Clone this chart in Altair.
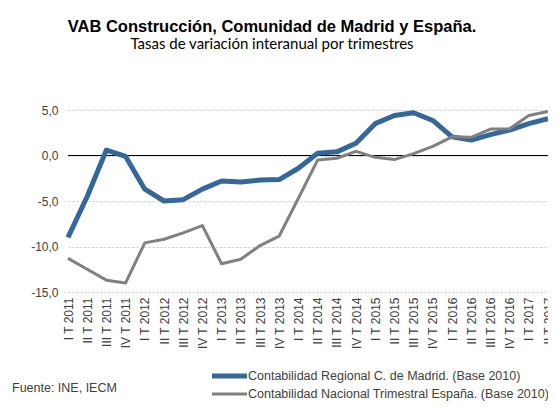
import altair as alt
import pandas as pd

categories = [
    "I T 2011", "II T 2011", "III T 2011", "IV T 2011",
    "I T 2012", "II T 2012", "III T 2012", "IV T 2012",
    "I T 2013", "II T 2013", "III T 2013", "IV T 2013",
    "I T 2014", "II T 2014", "III T 2014", "IV T 2014",
    "I T 2015", "II T 2015", "III T 2015", "IV T 2015",
    "I T 2016", "II T 2016", "III T 2016", "IV T 2016",
    "I T 2017", "II T 2017",
]
madrid = [-9.0, -4.5, 0.6, -0.1, -3.7, -5.0, -4.85, -3.7, -2.8, -2.9, -2.7, -2.65,
          -1.4, 0.25, 0.4, 1.35, 3.5, 4.4, 4.7, 3.85, 2.05, 1.7, 2.3, 2.8, 3.5, 4.05]
spain = [-11.3, -12.5, -13.7, -14.0, -9.6, -9.2, -8.5, -7.7, -11.9, -11.4, -9.9, -8.85,
         -4.7, -0.5, -0.3, 0.45, -0.2, -0.45, 0.2, 1.0, 2.05, 2.0, 2.9, 2.95, 4.4, 4.85]

series_names = ["Contabilidad Regional C. de Madrid. (Base 2010)",
                "Contabilidad Nacional Trimestral España. (Base 2010)"]
series_colors = ["#34679a", "#808080"]
series_widths = [5, 3]
y_ticks = [-15, -10, -5, 0, 5]
title_text = "VAB Construcción, Comunidad de Madrid y España."
subtitle_text = "Tasas de variación interanual por trimestres"
source_text = "Fuente: INE, IECM"

rows = []
for name, vals in zip(series_names, [madrid, spain]):
    for c, v in zip(categories, vals):
        rows.append({"periodo": c, "valor": v, "serie": name})
df = pd.DataFrame(rows)
df_leg = pd.DataFrame({"serie": series_names})

FONT = "Liberation Sans"
TXT = "#404040"

y_scale = alt.Scale(domain=[-15, 5], nice=False, zero=False)
color_scale = alt.Scale(domain=series_names, range=series_colors)
width_scale = alt.Scale(domain=series_names, range=series_widths)

x_enc = alt.X("periodo:N", sort=categories,
              scale=alt.Scale(type="point", padding=0),
              axis=alt.Axis(labelAngle=-90, labelFont=FONT, labelFontSize=12,
                            labelColor=TXT, labelPadding=5, ticks=False, domain=False,
                            grid=False, title=None, labelOverlap=False))
y_enc = alt.Y("valor:Q", scale=y_scale,
              axis=alt.Axis(values=y_ticks, grid=True, gridDash=[2, 2], gridColor="#c8c8c8",
                            domain=False, ticks=False, labelPadding=10, labelFont=FONT,
                            labelFontSize=12, labelColor=TXT, title=None,
                            labelExpr="replace(replace(format(datum.value, '.1f'), '.', ','), '\u2212', '-')"))

lines = alt.Chart(df).mark_line(strokeCap="butt", strokeJoin="round").encode(
    x=x_enc,
    y=y_enc,
    color=alt.Color("serie:N", sort=series_names, scale=color_scale, legend=None),
    strokeWidth=alt.StrokeWidth("serie:N", sort=series_names, scale=width_scale, legend=None),
    order=alt.Order("serie:N"),
)

zero = alt.Chart(pd.DataFrame({"v": [0]})).mark_rule(color="black", strokeWidth=1).encode(
    y=alt.Y("v:Q", scale=y_scale, axis=None)
)

# legend built from the series list
leg_y = alt.Y("serie:N", sort=series_names,
              scale=alt.Scale(type="point", padding=0, domain=series_names, range=[266, 284]),
              axis=None)
leg_lines = alt.Chart(df_leg).mark_rule(strokeCap="butt").encode(
    x=alt.value(144), x2=alt.value(179), y=leg_y,
    color=alt.Color("serie:N", scale=color_scale, legend=None),
    strokeWidth=alt.StrokeWidth("serie:N", scale=width_scale, legend=None),
)
leg_text = alt.Chart(df_leg).mark_text(
    align="left", baseline="middle", font=FONT, fontSize=12.5, color=TXT
).encode(x=alt.value(180), y=leg_y, text="serie:N")

source = alt.Chart(pd.DataFrame({"t": [source_text]})).mark_text(
    align="left", baseline="middle", font=FONT, fontSize=12.5, color=TXT
).encode(x=alt.value(-56), y=alt.value(278), text="t:N")

chart = alt.layer(zero, lines, leg_lines, leg_text, source).resolve_scale(
    y="independent"
).properties(
    width=480, height=182,
    autosize="none",
    padding={"left": 60, "top": 102, "right": 0, "bottom": 110},
    title=alt.TitleParams(text=title_text, subtitle=subtitle_text, font=FONT, fontSize=16.5,
                          fontWeight="bold", color="black", subtitleFont="Lato",
                          subtitleFontSize=15, subtitleColor="black", anchor="middle",
                          dx=-36, offset=52, subtitlePadding=2),
).configure_view(stroke=None)

chart.save("out.html", embed_options={"renderer": "svg", "actions": False})
